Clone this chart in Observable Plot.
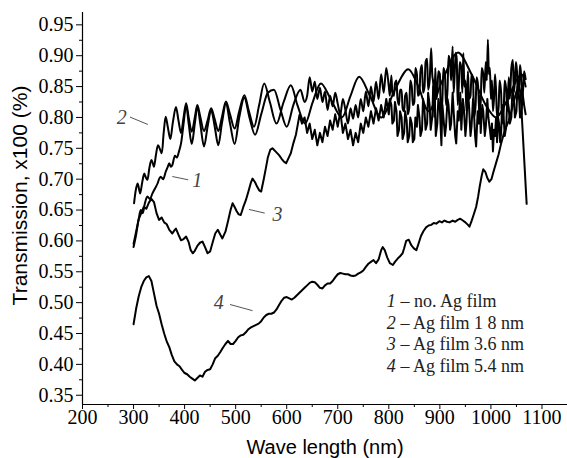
<!DOCTYPE html>
<html><head><meta charset="utf-8">
<script src="https://cdn.jsdelivr.net/npm/d3@7"></script>
<script src="https://cdn.jsdelivr.net/npm/@observablehq/plot@0.6"></script>
<style>
body{margin:0;background:#fff}
</style>
</head><body><div id="chart"></div>
<script>
// ---- data: [wavelength (nm), transmission] ----
const curve1 = [[300,0.590],[305,0.610],[310,0.635],[314,0.650],[318,0.645],[322,0.660],[327,0.672],[332,0.668],[337,0.677],[342,0.685],[347,0.693],[350,0.700],[353,0.704],[358,0.700],[363,0.712],[367,0.720],[370,0.726],[373,0.720],[376,0.723],[381,0.738],[385,0.735],[389,0.745],[393,0.758],[398,0.790],[403,0.820],[408,0.790],[414,0.757],[420,0.790],[425,0.818],[431,0.788],[438,0.753],[445,0.785],[452,0.812],[459,0.785],[466,0.755],[473,0.790],[481,0.822],[489,0.790],[498,0.757],[507,0.800],[517,0.832],[527,0.800],[538,0.772],[550,0.805],[563,0.840],[575,0.845],[588,0.812],[600,0.785],[613,0.820],[627,0.845],[635,0.825],[640,0.835],[645,0.865],[650,0.842],[655,0.858],[660,0.830],[665,0.848],[670,0.825],[675,0.842],[680,0.812],[685,0.835],[690,0.818],[695,0.840],[700,0.822],[705,0.805],[710,0.830],[715,0.812],[720,0.790],[725,0.815],[730,0.798],[735,0.820],[740,0.800],[745,0.830],[750,0.810],[755,0.842],[760,0.818],[765,0.850],[770,0.825],[775,0.858],[780,0.830],[785,0.870],[790,0.840],[795,0.880],[800,0.850],[802,0.835],[805,0.868],[807,0.840],[810,0.835],[812,0.855],[815,0.860],[817,0.830],[820,0.820],[822,0.845],[825,0.845],[827,0.815],[830,0.810],[832,0.835],[835,0.840],[837,0.805],[840,0.815],[842,0.860],[845,0.850],[847,0.820],[850,0.825],[852,0.880],[855,0.870],[857,0.835],[860,0.840],[862,0.875],[865,0.885],[867,0.840],[870,0.850],[872,0.890],[875,0.895],[877,0.845],[880,0.860],[883,0.912],[885,0.870],[887,0.855],[889,0.800],[891,0.880],[893,0.830],[895,0.840],[897,0.875],[900,0.870],[902,0.800],[905,0.830],[907,0.880],[910,0.868],[912,0.820],[915,0.845],[917,0.900],[920,0.890],[922,0.860],[925,0.915],[927,0.840],[929,0.870],[931,0.905],[933,0.895],[935,0.820],[937,0.850],[939,0.890],[942,0.880],[944,0.840],[946,0.904],[948,0.850],[950,0.860],[952,0.810],[955,0.875],[957,0.830],[960,0.835],[962,0.870],[965,0.860],[967,0.800],[970,0.820],[972,0.865],[975,0.850],[977,0.810],[980,0.825],[982,0.880],[985,0.870],[987,0.840],[990,0.890],[992,0.860],[994,0.926],[996,0.870],[998,0.880],[1000,0.830],[1002,0.860],[1004,0.810],[1006,0.830],[1008,0.870],[1010,0.845],[1012,0.800],[1015,0.815],[1017,0.860],[1020,0.840],[1022,0.790],[1025,0.810],[1027,0.860],[1030,0.845],[1032,0.810],[1035,0.865],[1037,0.830],[1040,0.880],[1043,0.893],[1045,0.840],[1047,0.860],[1049,0.890],[1051,0.875],[1053,0.830],[1055,0.850],[1057,0.885],[1059,0.870],[1061,0.830],[1063,0.845],[1065,0.875],[1068,0.862]];

const curve2 = [[301,0.661],[305,0.685],[308,0.693],[311,0.683],[313,0.677],[317,0.695],[321,0.709],[324,0.703],[327,0.699],[331,0.718],[335,0.731],[338,0.725],[340,0.720],[344,0.740],[348,0.755],[352,0.748],[355,0.742],[359,0.775],[363,0.801],[367,0.785],[372,0.765],[377,0.792],[383,0.817],[388,0.795],[393,0.775],[398,0.800],[403,0.823],[408,0.800],[414,0.777],[420,0.800],[425,0.820],[431,0.800],[438,0.778],[445,0.795],[452,0.815],[459,0.797],[466,0.778],[473,0.800],[481,0.826],[489,0.805],[498,0.782],[507,0.810],[517,0.836],[526,0.810],[536,0.785],[546,0.820],[556,0.855],[567,0.825],[580,0.790],[594,0.825],[608,0.852],[621,0.820],[636,0.790],[651,0.825],[667,0.855],[686,0.830],[708,0.800],[725,0.835],[742,0.866],[763,0.835],[785,0.800],[812,0.845],[838,0.878],[858,0.850],[878,0.810],[905,0.860],[935,0.905],[962,0.870],[990,0.820],[1010,0.800],[1030,0.825],[1050,0.860],[1060,0.870],[1068,0.850]];

const curve3 = [[300,0.595],[305,0.615],[310,0.635],[315,0.645],[320,0.655],[325,0.652],[330,0.662],[335,0.668],[340,0.663],[345,0.645],[350,0.634],[355,0.638],[360,0.630],[365,0.627],[370,0.618],[376,0.612],[380,0.617],[383,0.620],[388,0.610],[393,0.601],[398,0.603],[403,0.607],[408,0.598],[412,0.585],[416,0.580],[420,0.584],[425,0.592],[430,0.597],[435,0.599],[440,0.590],[445,0.580],[450,0.583],[455,0.598],[460,0.612],[465,0.618],[470,0.610],[474,0.604],[480,0.615],[485,0.632],[490,0.650],[494,0.661],[498,0.655],[502,0.648],[506,0.643],[510,0.642],[515,0.655],[520,0.666],[525,0.680],[530,0.695],[533,0.701],[538,0.695],[542,0.688],[546,0.682],[550,0.680],[555,0.700],[559,0.717],[563,0.735],[568,0.748],[572,0.750],[578,0.745],[585,0.739],[590,0.733],[595,0.728],[599,0.726],[604,0.735],[608,0.742],[613,0.758],[618,0.772],[622,0.790],[625,0.804],[630,0.790],[635,0.800],[640,0.775],[645,0.790],[650,0.765],[655,0.780],[660,0.755],[665,0.775],[670,0.760],[675,0.785],[680,0.770],[685,0.795],[690,0.780],[695,0.805],[700,0.785],[705,0.810],[710,0.775],[715,0.790],[720,0.765],[725,0.780],[730,0.755],[735,0.775],[740,0.760],[745,0.790],[750,0.775],[755,0.800],[760,0.785],[765,0.810],[770,0.790],[775,0.815],[780,0.795],[785,0.820],[790,0.800],[795,0.830],[800,0.805],[802,0.830],[805,0.820],[807,0.790],[810,0.795],[812,0.825],[815,0.810],[817,0.770],[820,0.780],[822,0.810],[825,0.800],[827,0.765],[830,0.775],[832,0.810],[835,0.795],[837,0.760],[840,0.770],[842,0.800],[845,0.790],[847,0.760],[850,0.765],[852,0.800],[855,0.785],[857,0.820],[860,0.800],[862,0.770],[865,0.780],[867,0.830],[870,0.810],[872,0.780],[875,0.790],[877,0.840],[880,0.820],[882,0.780],[885,0.800],[887,0.850],[890,0.835],[892,0.770],[895,0.790],[897,0.830],[900,0.815],[903,0.755],[905,0.820],[907,0.800],[910,0.770],[912,0.785],[915,0.830],[917,0.820],[920,0.780],[922,0.790],[925,0.840],[927,0.810],[930,0.770],[932,0.758],[935,0.810],[937,0.795],[940,0.840],[942,0.780],[945,0.830],[947,0.815],[950,0.770],[952,0.790],[955,0.845],[957,0.820],[960,0.770],[962,0.785],[965,0.830],[967,0.805],[969,0.770],[971,0.753],[974,0.810],[976,0.790],[978,0.835],[980,0.775],[983,0.820],[985,0.810],[988,0.770],[990,0.785],[993,0.830],[995,0.800],[998,0.780],[1000,0.765],[1002,0.790],[1004,0.745],[1006,0.780],[1008,0.770],[1010,0.800],[1012,0.760],[1014,0.800],[1016,0.790],[1018,0.760],[1020,0.775],[1022,0.820],[1025,0.800],[1027,0.770],[1030,0.785],[1032,0.830],[1035,0.815],[1037,0.790],[1040,0.800],[1042,0.845],[1045,0.830],[1047,0.800],[1050,0.810],[1052,0.850],[1055,0.835],[1057,0.800],[1060,0.805],[1062,0.840],[1065,0.820],[1068,0.805]];

const curve4 = [[300,0.465],[305,0.490],[310,0.510],[315,0.525],[320,0.535],[325,0.541],[330,0.543],[335,0.535],[340,0.515],[345,0.495],[350,0.482],[355,0.465],[360,0.450],[365,0.437],[370,0.428],[375,0.415],[380,0.405],[385,0.400],[390,0.397],[395,0.391],[400,0.386],[405,0.384],[410,0.380],[415,0.377],[420,0.374],[425,0.378],[430,0.382],[435,0.380],[440,0.388],[445,0.391],[450,0.392],[455,0.400],[460,0.410],[465,0.414],[470,0.420],[475,0.427],[480,0.433],[485,0.438],[490,0.433],[495,0.433],[500,0.438],[505,0.444],[510,0.447],[515,0.448],[520,0.452],[525,0.457],[530,0.460],[535,0.462],[540,0.464],[545,0.466],[550,0.470],[555,0.476],[560,0.480],[565,0.482],[570,0.482],[575,0.484],[580,0.489],[585,0.496],[590,0.503],[595,0.508],[600,0.509],[605,0.507],[610,0.505],[615,0.508],[620,0.512],[625,0.516],[630,0.520],[635,0.524],[640,0.528],[645,0.532],[650,0.534],[655,0.533],[660,0.529],[665,0.524],[670,0.523],[675,0.528],[680,0.531],[685,0.531],[690,0.535],[695,0.541],[700,0.546],[705,0.548],[710,0.547],[715,0.546],[720,0.546],[725,0.544],[730,0.543],[735,0.544],[740,0.547],[745,0.549],[750,0.552],[755,0.558],[760,0.563],[765,0.566],[770,0.569],[775,0.564],[780,0.570],[785,0.585],[788,0.590],[792,0.585],[797,0.573],[802,0.564],[808,0.561],[812,0.566],[817,0.571],[822,0.575],[827,0.580],[830,0.588],[834,0.600],[839,0.602],[844,0.593],[849,0.588],[854,0.585],[858,0.595],[863,0.608],[868,0.616],[873,0.622],[878,0.625],[883,0.626],[888,0.629],[893,0.628],[899,0.632],[904,0.630],[909,0.633],[914,0.631],[919,0.630],[925,0.633],[930,0.631],[935,0.634],[940,0.636],[945,0.633],[950,0.630],[955,0.626],[958,0.623],[962,0.632],[966,0.642],[971,0.655],[975,0.672],[978,0.688],[982,0.706],[985,0.716],[989,0.712],[993,0.702],[997,0.696],[1001,0.700],[1005,0.712],[1010,0.726],[1015,0.740],[1020,0.758],[1025,0.773],[1030,0.785],[1035,0.795],[1040,0.810],[1045,0.826],[1050,0.842],[1055,0.850],[1058,0.840],[1062,0.780],[1066,0.720],[1070,0.660]];

const xTicks = [200,300,400,500,600,700,800,900,1000,1100];
const xMinor = [250,350,450,550,650,750,850,950,1050];
const yTicks = [0.35,0.40,0.45,0.50,0.55,0.60,0.65,0.70,0.75,0.80,0.85,0.90,0.95];
const yMinor = [0.375,0.425,0.475,0.525,0.575,0.625,0.675,0.725,0.775,0.825,0.875,0.925];

const curveLabelText = ["2","1","3","4"];
const legendNums = ["1","2","3","4"];
const legendTexts = ["– no. Ag film","– Ag film 1 8 nm","– Ag film 3.6 nm","– Ag film 5.4 nm"];

// ---- annotation placement (data units) ----
const curveLabels = [
  {t: curveLabelText[0], x: 267, y: 0.790},
  {t: curveLabelText[1], x: 415, y: 0.687},
  {t: curveLabelText[2], x: 572, y: 0.633},
  {t: curveLabelText[3], x: 457, y: 0.489}
];
const leaders = [
  {x1: 293, y1: 0.8006, x2: 328, y2: 0.7886},
  {x1: 376, y1: 0.7043, x2: 407, y2: 0.6990},
  {x1: 526, y1: 0.6510, x2: 557, y2: 0.6450},
  {x1: 489, y1: 0.4970, x2: 533, y2: 0.4870}
];
const legendRows = legendNums.map((n, i) => ({n, t: legendTexts[i], y: 0.4937 - i * 0.0356}));

const fx = d => d[0], fy = d => d[1];
const serif = "Liberation Serif";
const sans = "Liberation Sans";
const fmtY = d3.format(".2f");

const chart = Plot.plot({
  width: 567,
  height: 458,
  marginLeft: 82,
  marginRight: 0,
  marginTop: 12,
  marginBottom: 54,
  style: {background: "#fff", color: "#000"},
  x: {domain: [200, 1150], label: null},
  y: {domain: [0.335, 0.97], label: null},
  marks: [
    Plot.axisX(xTicks, {tickSize: 5, tickFormat: () => "", label: null}),
    Plot.axisX(xMinor, {tickSize: 3, tickFormat: () => "", label: null}),
    Plot.axisY(yTicks, {tickSize: 6, tickFormat: () => "", label: null}),
    Plot.axisY(yMinor, {tickSize: 3, tickFormat: () => "", label: null}),
    Plot.text(xTicks, {x: d => d, frameAnchor: "bottom", dy: 5, text: d => String(d), fontFamily: serif, fontSize: 20, lineAnchor: "top", textAnchor: "middle", fill: "#000"}),
    Plot.text(yTicks, {y: d => d, frameAnchor: "left", dx: -9, text: d => fmtY(d), fontFamily: serif, fontSize: 20, lineAnchor: "middle", textAnchor: "end", fill: "#000"}),
    Plot.ruleX([200], {stroke: "#000", strokeWidth: 1.2}),
    Plot.ruleY([0.335], {stroke: "#000", strokeWidth: 1.2}),
    Plot.line(curve4, {x: fx, y: fy, stroke: "#000", strokeWidth: 2}),
    Plot.line(curve3, {x: fx, y: fy, stroke: "#000", strokeWidth: 2}),
    Plot.line(curve1, {x: fx, y: fy, stroke: "#000", strokeWidth: 2, curve: "monotone-x"}),
    Plot.line(curve2, {x: fx, y: fy, stroke: "#000", strokeWidth: 2, curve: "catmull-rom"}),
    Plot.link(leaders, {x1: "x1", y1: "y1", x2: "x2", y2: "y2", stroke: "#555", strokeWidth: 1}),
    Plot.text(curveLabels, {x: "x", y: "y", text: "t", fontStyle: "italic", fontSize: 20, fontFamily: serif, fill: "#444", textAnchor: "start", lineAnchor: "bottom"}),
    Plot.text(legendRows, {x: () => 796, y: "y", text: "n", fontStyle: "italic", fontSize: 18, fontFamily: serif, fill: "#222", textAnchor: "start", lineAnchor: "bottom"}),
    Plot.text(legendRows, {x: () => 823, y: "y", text: "t", fontSize: 18, fontFamily: serif, fill: "#222", textAnchor: "start", lineAnchor: "bottom"}),
    Plot.text(["Wave length (nm)"], {frameAnchor: "bottom", dy: 49, text: d => d, fontFamily: sans, fontSize: 20, lineAnchor: "bottom", textAnchor: "middle"}),
    Plot.text(["Transmission, x100 (%)"], {frameAnchor: "left", dx: -62, dy: -13, rotate: -90, text: d => d, fontFamily: sans, fontSize: 21, lineAnchor: "middle", textAnchor: "middle"})
  ]
});
document.getElementById("chart").appendChild(chart);
</script>
</body></html>
